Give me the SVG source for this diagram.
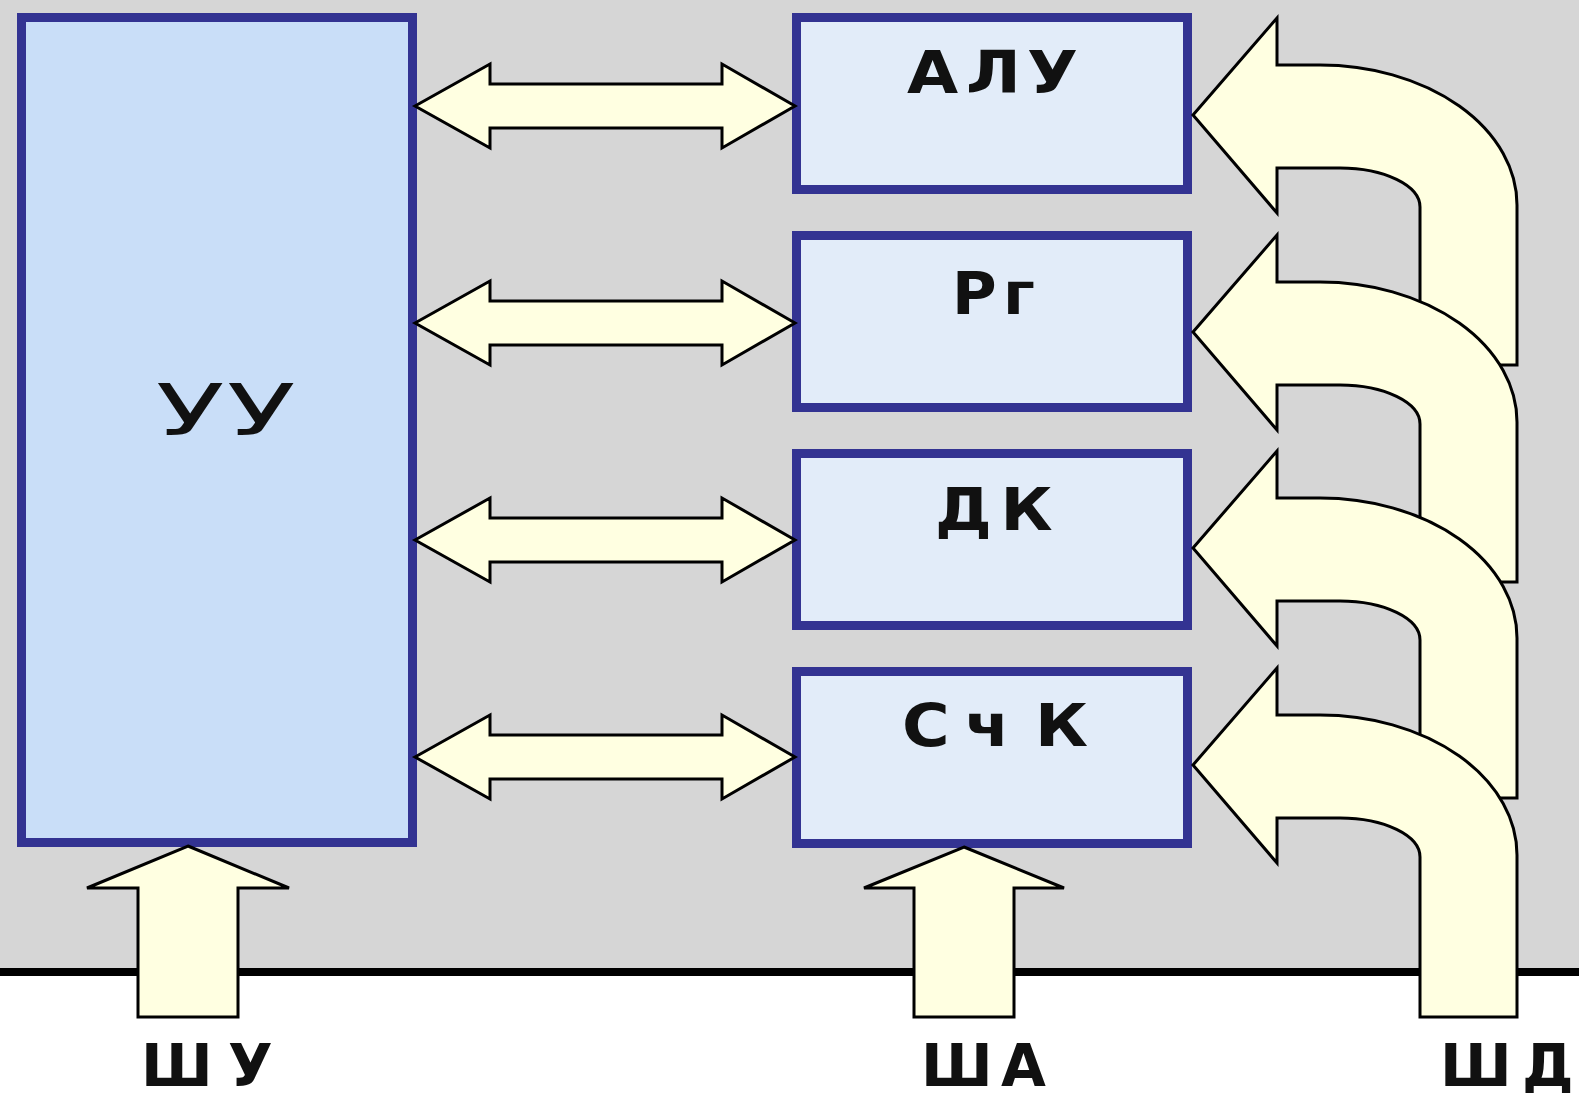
<svg xmlns="http://www.w3.org/2000/svg" width="1579" height="1093" viewBox="0 0 1579 1093">
  <defs>
    <style>
      .bg { fill: #d6d6d6; }
      .box { stroke: #333392; stroke-width: 9; }
      .uu { fill: #c9def8; }
      .reg { fill: #e2ecf9; }
      .arr { fill: #ffffe1; stroke: #000; stroke-width: 3; stroke-linejoin: miter; }
      .lbl { font-family: "DejaVu Sans", "Liberation Sans", sans-serif; font-weight: bold; font-size: 58px; fill: #111; }
      .big { font-family: "DejaVu Sans", "Liberation Sans", sans-serif; font-weight: normal; font-size: 72px; fill: #111; }
    </style>
  </defs>

  <rect class="bg" x="0" y="0" width="1579" height="972"/>
  <rect x="0" y="972" width="1579" height="121" fill="#ffffff"/>
  <line x1="0" y1="972" x2="1579" y2="972" stroke="#000" stroke-width="8"/>

  <g id="node-uu">
    <rect class="box uu" x="21.5" y="17.5" width="391" height="825"/>
    <text class="big" transform="translate(156,435) scale(1.56,1)" x="0 45.5" y="0">УУ</text>
  </g>

  <g id="node-alu">
    <rect class="box reg" x="796.5" y="17.5" width="391" height="172"/>
    <text class="lbl" transform="translate(907,93) scale(1.14,1)" x="0 51.8 105.3" y="0">АЛУ</text>
  </g>
  <g id="node-rg">
    <rect class="box reg" x="796.5" y="235.5" width="391" height="172"/>
    <text class="lbl" transform="translate(952,314) scale(1.05,1)" x="0 48.6" y="0">Рг</text>
  </g>
  <g id="node-dk">
    <rect class="box reg" x="796.5" y="453.5" width="391" height="172"/>
    <text class="lbl" transform="translate(935,530) scale(1.1,1)" x="0 59.5" y="0">ДК</text>
  </g>
  <g id="node-sck">
    <rect class="box reg" x="796.5" y="671.5" width="391" height="172"/>
    <text class="lbl" transform="translate(902,746) scale(1.12,1)" x="0 56.3 118.8" y="0">СчК</text>
  </g>

  <g id="connectors">
    <!-- double arrows between УУ and registers -->
    <path class="arr" d="M415,106 L490,64 L490,84 L722,84 L722,64 L795,106 L722,148 L722,128 L490,128 L490,148 Z"/>
    <path class="arr" d="M415,323 L490,281 L490,301 L722,301 L722,281 L795,323 L722,365 L722,345 L490,345 L490,365 Z"/>
    <path class="arr" d="M415,540 L490,498 L490,518 L722,518 L722,498 L795,540 L722,582 L722,562 L490,562 L490,582 Z"/>
    <path class="arr" d="M415,757 L490,715 L490,735 L722,735 L722,715 L795,757 L722,799 L722,779 L490,779 L490,799 Z"/>

    <!-- curved data-bus arrows (drawn top to bottom) -->
    <path class="arr" d="M1193,115 L1277,18 L1277,65 L1320,65 A197 140 0 0 1 1517,205 L1517,365 L1420,365 L1420,207 A80 39 0 0 0 1340,168 L1277,168 L1277,213 Z"/>
    <path class="arr" d="M1193,332 L1277,235 L1277,282 L1320,282 A197 140 0 0 1 1517,422 L1517,582 L1420,582 L1420,424 A80 39 0 0 0 1340,385 L1277,385 L1277,430 Z"/>
    <path class="arr" d="M1193,548 L1277,451 L1277,498 L1320,498 A197 140 0 0 1 1517,638 L1517,798 L1420,798 L1420,640 A80 39 0 0 0 1340,601 L1277,601 L1277,646 Z"/>
    <path class="arr" d="M1193,765 L1277,668 L1277,715 L1320,715 A197 140 0 0 1 1517,855 L1517,1017 L1420,1017 L1420,857 A80 39 0 0 0 1340,818 L1277,818 L1277,863 Z"/>

    <!-- bus input arrows -->
    <path class="arr" d="M188,846 L289,888 L238,888 L238,1017 L138,1017 L138,888 L87,888 Z"/>
    <path class="arr" d="M964,847 L1064,888 L1014,888 L1014,1017 L914,1017 L914,888 L864,888 Z"/>
  </g>

  <g id="labels">
    <text class="lbl" x="141 228" y="1086">ШУ</text>
    <text class="lbl" x="921 1001" y="1086">ША</text>
    <text class="lbl" x="1440 1522" y="1086">ШД</text>
  </g>
</svg>
